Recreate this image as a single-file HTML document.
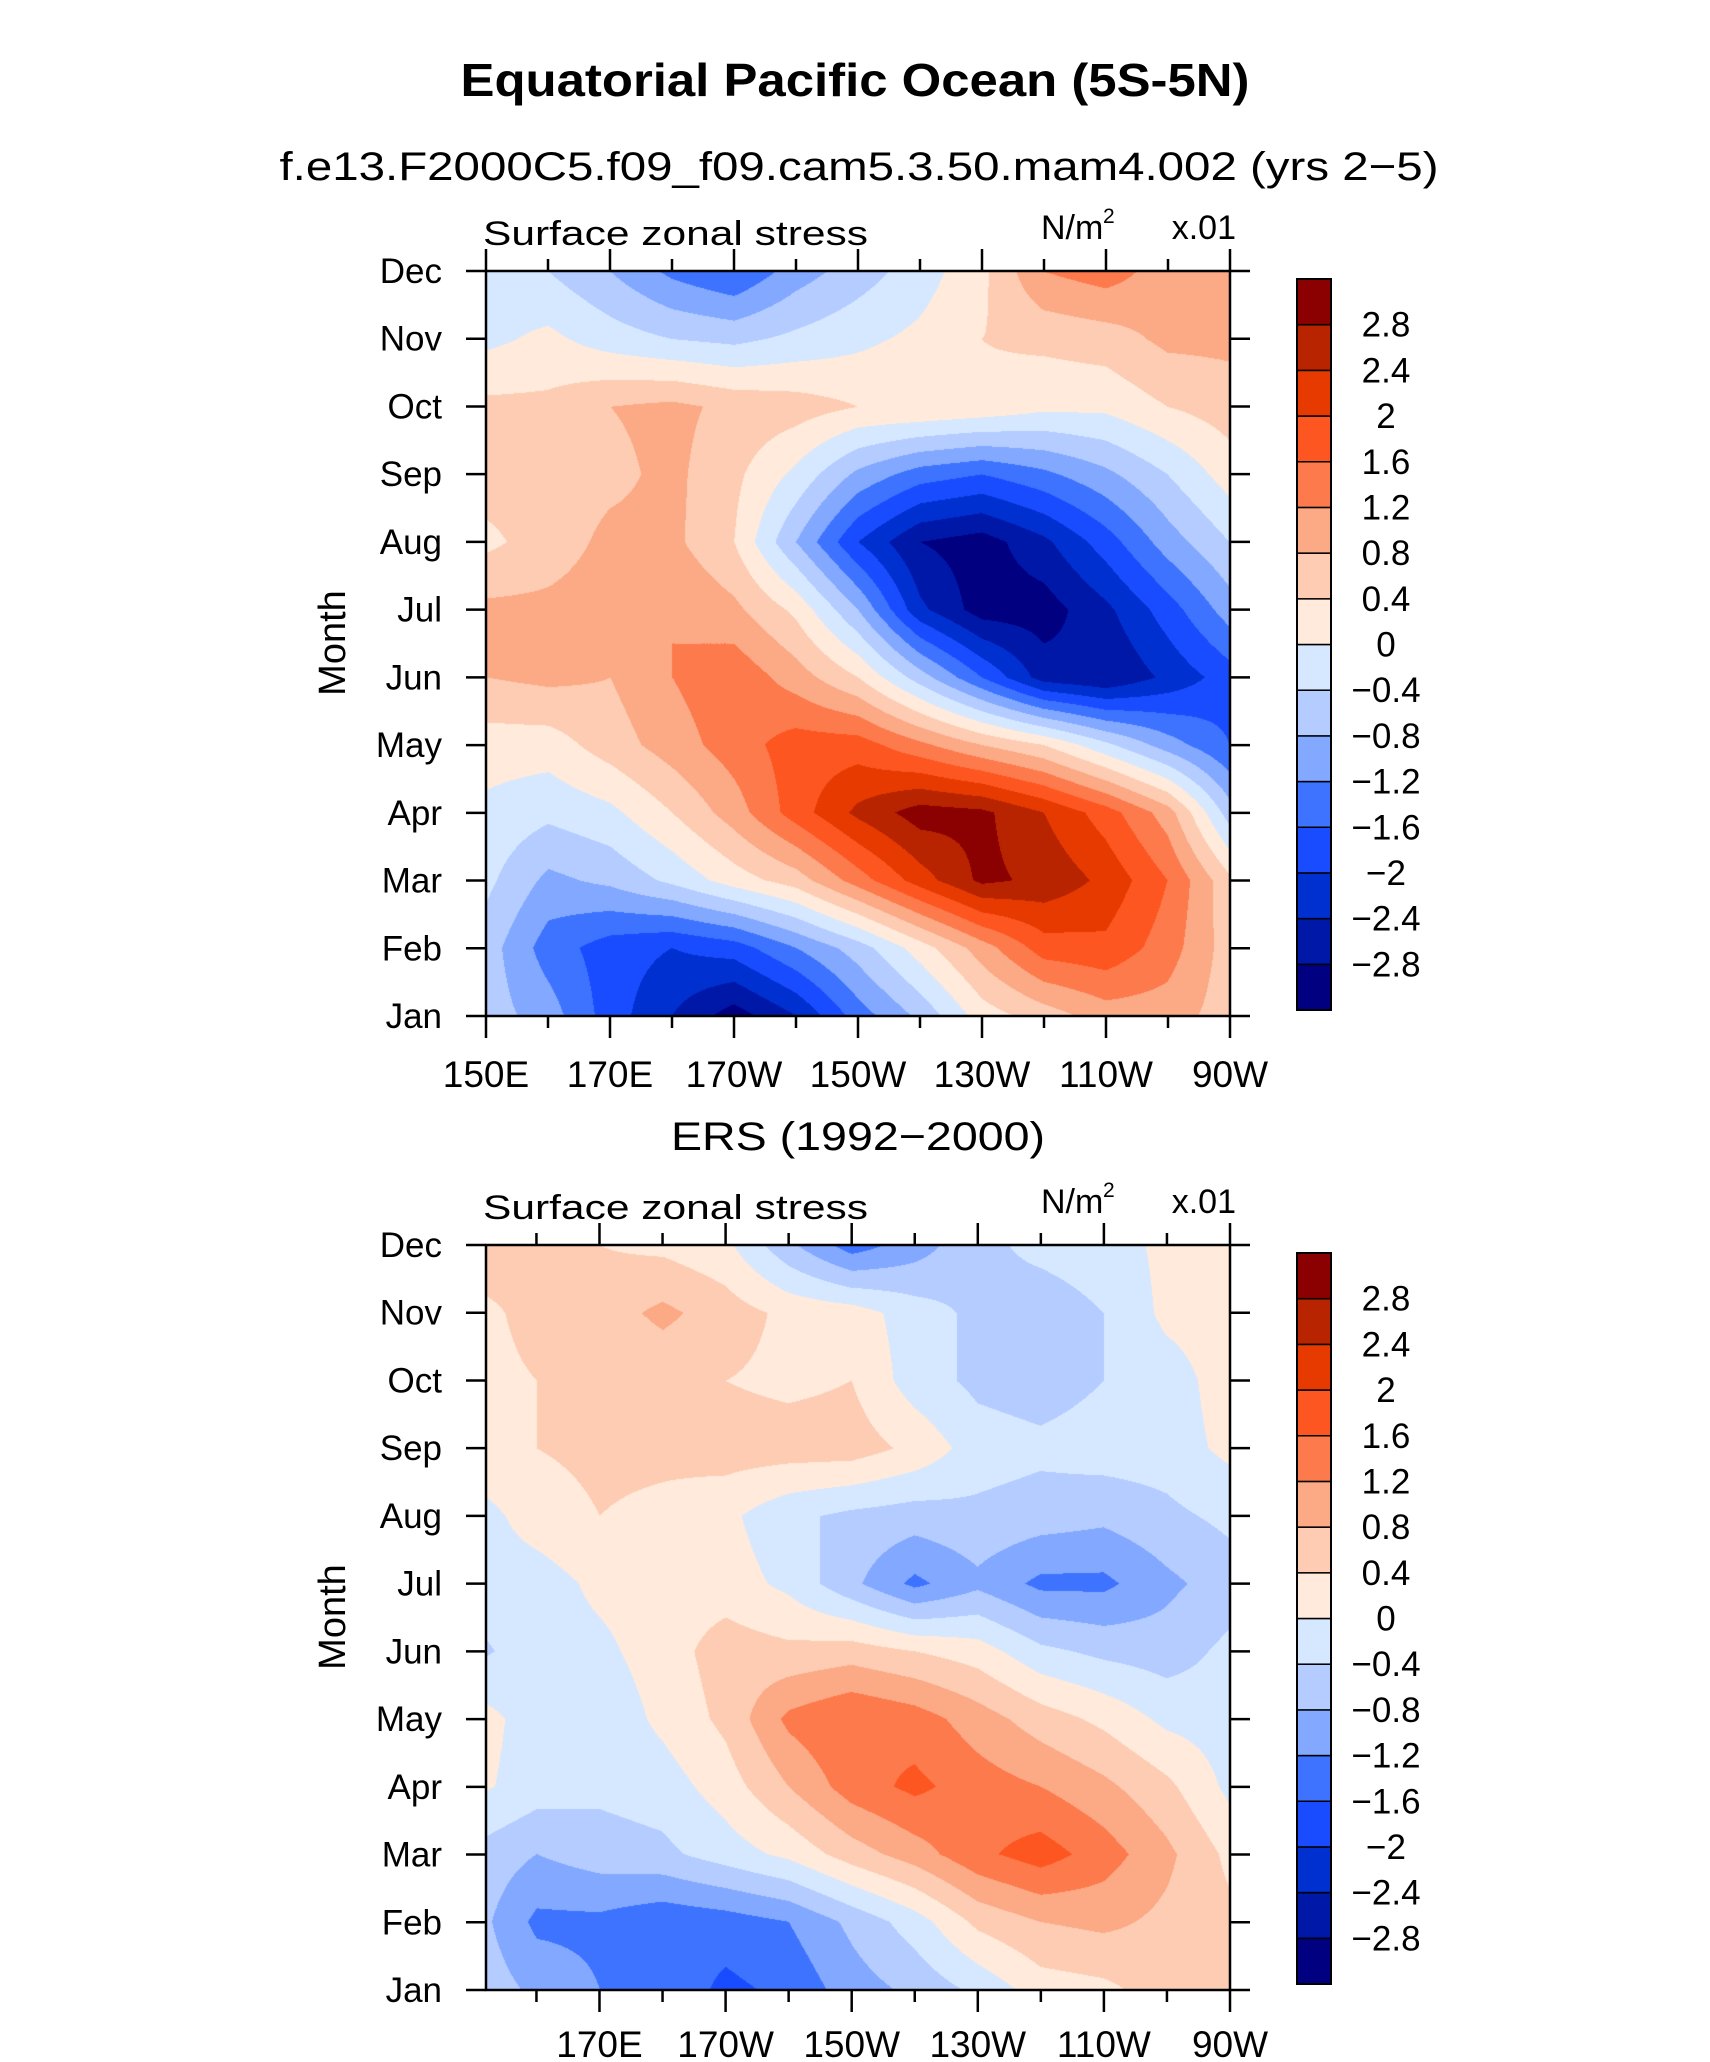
<!DOCTYPE html>
<html><head><meta charset="utf-8"><style>
html,body{margin:0;padding:0;background:#fff;}
#wrap{position:relative;width:1710px;height:2062px;overflow:hidden;background:#fff;}
canvas{position:absolute;}
svg{position:absolute;left:0;top:0;}
text{font-family:"Liberation Sans",sans-serif;fill:#000;}
</style></head><body><div id="wrap">
<canvas id="c1" width="744" height="745" style="left:486px;top:271px"></canvas>
<canvas id="c2" width="744" height="745" style="left:486px;top:1245px"></canvas>
<svg id="s" width="1710" height="2062" viewBox="0 0 1710 2062">
<text x="855" y="96" font-size="46" font-weight="bold" text-anchor="middle" textLength="789" lengthAdjust="spacingAndGlyphs">Equatorial Pacific Ocean (5S-5N)</text>
<text x="859" y="180" font-size="40" text-anchor="middle" textLength="1159" lengthAdjust="spacingAndGlyphs">f.e13.F2000C5.f09_f09.cam5.3.50.mam4.002 (yrs 2−5)</text>
<text x="858" y="1150" font-size="40" text-anchor="middle" textLength="374" lengthAdjust="spacingAndGlyphs">ERS (1992−2000)</text>
</svg>
</div>
<script>
var COLS=['#000080','#0018a8','#0030d0','#1a4cff','#3d73ff','#82a8ff','#b4ccff','#d6e8ff','#ffeadb','#fdccb3','#fca985','#fd7a4c','#fd5621','#e63a00','#b82400','#8b0000'];
var D1=[
[-0.6,-1.0,-1.8,-2.4,-3.0,-2.4,-1.4,-0.7,0.2,0.6,1.0,1.0,0.6],
[-0.6,-1.4,-1.8,-2.0,-1.8,-1.2,-0.6,0.2,1.0,1.8,1.9,1.4,0.6],
[-0.3,-0.9,-0.7,-0.3,0.2,0.6,1.4,2.2,2.9,2.7,2.3,1.6,0.5],
[-0.1,-0.3,-0.1,0.4,1.0,1.8,2.5,3.0,2.9,2.4,1.8,1.0,-0.6],
[0.2,0.2,0.6,1.0,1.4,1.8,1.8,1.3,0.8,0.4,-0.3,-1.0,-1.6],
[0.8,0.9,0.8,1.2,1.5,1.0,0.4,-0.6,-1.6,-2.6,-2.8,-2.3,-1.8],
[0.9,0.9,1.0,1.2,0.9,0.3,-0.8,-2.3,-3.0,-3.0,-2.5,-1.8,-1.0],
[0.3,0.6,0.9,0.9,0.4,-0.8,-2.0,-2.8,-3.0,-2.5,-1.8,-1.0,-0.4],
[0.6,0.6,0.7,0.9,0.5,-0.1,-0.9,-1.4,-1.6,-1.3,-0.9,-0.4,0.2],
[0.5,0.5,0.8,0.9,0.7,0.6,0.4,0.4,0.3,0.1,0.1,0.4,0.6],
[-0.1,0.1,-0.2,-0.4,-0.5,-0.3,-0.1,0.1,0.4,0.5,0.6,0.9,0.9],
[-0.2,-0.4,-0.8,-1.3,-1.6,-1.0,-0.6,-0.2,0.3,1.2,1.4,1.0,1.0]];
var D2=[
[-0.5,-0.9,-1.2,-1.3,-1.7,-1.5,-1.0,-0.7,-0.3,0.2,0.3,0.6,0.5],
[-0.6,-1.3,-1.3,-1.5,-1.4,-1.2,-0.7,-0.2,0.5,0.8,0.9,0.7,0.5],
[-0.5,-0.8,-0.6,-0.5,-0.2,0.1,0.6,1.0,1.5,1.8,1.4,0.9,0.3],
[0.1,-0.2,-0.3,-0.2,0.2,0.8,1.4,1.7,1.4,1.2,0.9,0.5,-0.1],
[0.2,-0.2,-0.3,0.1,0.5,1.3,1.6,1.4,1.0,0.6,0.3,-0.1,-0.2],
[-0.5,-0.2,-0.1,0.2,0.6,0.5,0.6,0.4,0.2,-0.3,-0.5,-0.6,-0.3],
[-0.2,-0.2,0.1,0.2,0.2,-0.1,-0.7,-1.3,-0.9,-1.3,-1.3,-0.9,-0.6],
[-0.2,0.2,0.4,0.3,0.1,-0.3,-0.5,-0.6,-0.5,-0.6,-0.7,-0.5,-0.3],
[0.3,0.4,0.5,0.5,0.6,0.6,0.6,0.3,-0.2,-0.3,-0.2,-0.2,0.1],
[0.3,0.4,0.4,0.5,0.4,0.3,0.4,-0.2,-0.5,-0.6,-0.4,-0.2,0.2],
[0.3,0.5,0.6,0.9,0.6,0.3,0.2,-0.2,-0.5,-0.6,-0.4,0.1,0.2],
[0.6,0.5,0.4,0.3,0.1,-0.7,-1.4,-1.0,-0.5,-0.3,-0.2,0.1,0.2]];
function rgb(h){return [parseInt(h.substr(1,2),16),parseInt(h.substr(3,2),16),parseInt(h.substr(5,2),16)];}
var RC=COLS.map(rgb);
function draw(id,D,lon0){
 var c=document.getElementById(id),ctx=c.getContext('2d'),W=c.width,H=c.height;
 var img=ctx.createImageData(W,H),d=img.data;
 for(var y=0;y<H;y++){
  var m=11*(1-y/(H-1)); var j=Math.min(10,Math.floor(m)),fy=m-j;
  for(var x=0;x<W;x++){
   var lon=lon0+(270-lon0)*x/(W-1); var g=(lon-150)/10; var i=Math.min(11,Math.floor(g)),fx=g-i;
   var v=(D[j][i]*(1-fx)+D[j][i+1]*fx)*(1-fy)+(D[j+1][i]*(1-fx)+D[j+1][i+1]*fx)*fy;
   var k=Math.floor(v/0.4)+8; if(k<0)k=0; if(k>15)k=15;
   var p=(y*W+x)*4,cc=RC[k]; d[p]=cc[0];d[p+1]=cc[1];d[p+2]=cc[2];d[p+3]=255;
  }
 }
 ctx.putImageData(img,0,0);
}
draw('c1',D1,150); draw('c2',D2,152);
var s=document.getElementById('s'),NS='http://www.w3.org/2000/svg';
function el(t,a,txt){var e=document.createElementNS(NS,t);for(var k in a)e.setAttribute(k,a[k]);if(txt!==undefined)e.textContent=txt;s.appendChild(e);return e;}
function line(x1,y1,x2,y2,w){el('line',{x1:x1,y1:y1,x2:x2,y2:y2,stroke:'#000','stroke-width':w||2.5});}
var months=['Jan','Feb','Mar','Apr','May','Jun','Jul','Aug','Sep','Oct','Nov','Dec'];
var labs=['2.8','2.4','2','1.6','1.2','0.8','0.4','0','−0.4','−0.8','−1.2','−1.6','−2','−2.4','−2.8'];
function panel(top,lon0,showFirst){
 var L=486,R=1230,T=top,B=top+745;
 el('rect',{x:L,y:T,width:R-L,height:B-T,fill:'none',stroke:'#000','stroke-width':2.5});
 for(var m=0;m<12;m++){var y=B-m*745/11;line(L-20,y,L,y);line(R,y,R+20,y);
  el('text',{x:442,y:y+12,'font-size':35,'text-anchor':'end'},months[m]);}
 var px=function(l){return L+(R-L)*(l-lon0)/(270-lon0);};
 var names={150:'150E',170:'170E',190:'170W',210:'150W',230:'130W',250:'110W',270:'90W'};
 for(var l=150;l<=270;l+=10){if(l<lon0)continue;var x=px(l);var maj=((l-150)%20==0);
  line(x,B,x,B+(maj?22:12));line(x,T,x,T-(maj?22:12));
  if(maj&&(l>150||showFirst))el('text',{x:x,y:B+(lon0==150?71:67),'font-size':37,'text-anchor':'middle'},names[l]);}
 el('text',{x:483,y:T-26,'font-size':34,textLength:385,lengthAdjust:'spacingAndGlyphs'},'Surface zonal stress');
 el('text',{x:1041,y:T-32,'font-size':34},'N/m');
 el('text',{x:1103,y:T-48,'font-size':21},'2');
 el('text',{x:1236,y:T-32,'font-size':34,'text-anchor':'end'},'x.01');
 el('text',{x:0,y:0,'font-size':38,'text-anchor':'middle',transform:'translate(345,'+(T+372)+') rotate(-90)'},'Month');
 var cT=T+8,cB=B-6,h=(cB-cT)/16;
 for(var k=0;k<16;k++){el('rect',{x:1297,y:cB-(k+1)*h,width:34,height:h,fill:COLS[k],stroke:'#000','stroke-width':1.5});}
 el('rect',{x:1297,y:cT,width:34,height:cB-cT,fill:'none',stroke:'#000','stroke-width':2});
 for(var k=0;k<15;k++){el('text',{x:1386,y:cT+(k+1)*h+12,'font-size':35,'text-anchor':'middle'},labs[k]);}
}
panel(271,150,true); panel(1245,152,false);
</script>
</body></html>
